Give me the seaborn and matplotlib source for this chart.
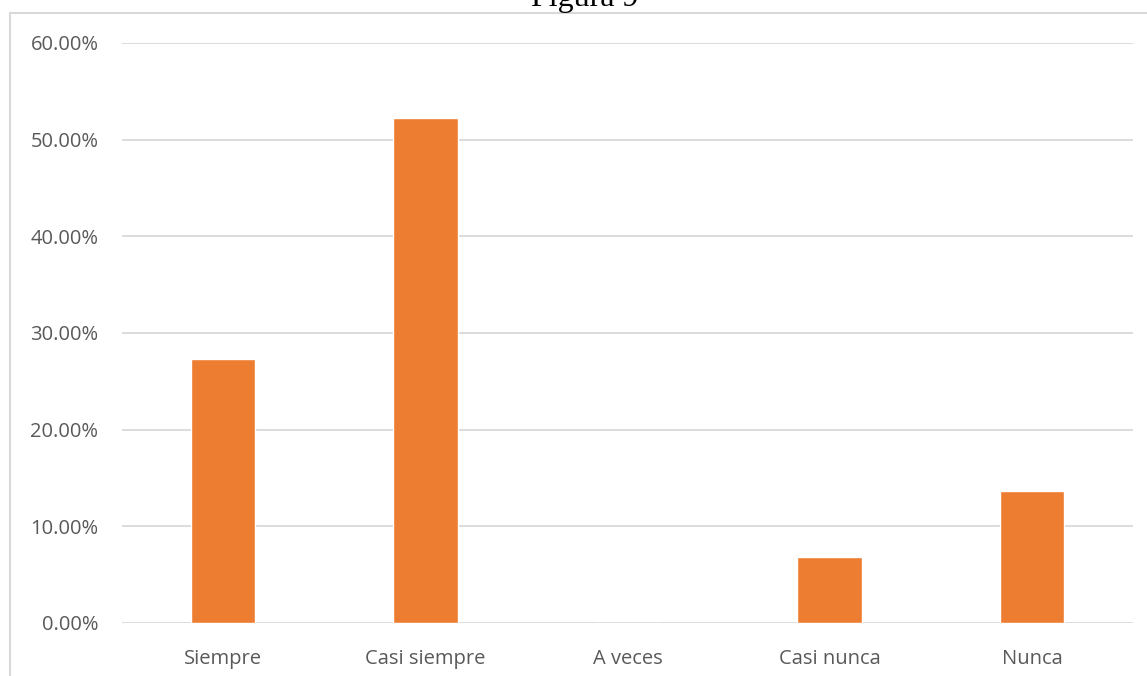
import matplotlib
matplotlib.use("Agg")
import matplotlib.pyplot as plt
import seaborn as sns
import pandas as pd
from matplotlib.patches import Rectangle
from matplotlib.ticker import FuncFormatter

# Datos
categorias = ["Siempre", "Casi siempre", "A veces", "Casi nunca", "Nunca"]
porcentajes = [0.2727, 0.5227, 0.0, 0.0682, 0.1364]
ticks_y = [0.0, 0.1, 0.2, 0.3, 0.4, 0.5, 0.6]
titulo = "Figura 9"

df = pd.DataFrame({"categoria": categorias, "valor": porcentajes})

sns.set_theme(style="white")
plt.rcParams["font.family"] = ["Open Sans", "DejaVu Sans"]

W, H = 1147, 676
fig = plt.figure(figsize=(W / 100, H / 100), dpi=100)
ax = fig.add_axes([122 / W, (H - 623) / H, (1133 - 122) / W, (623 - 43) / H])

sns.barplot(data=df, x="categoria", y="valor", color="#ED7D31",
            width=0.32, saturation=1, ax=ax, zorder=3)

ax.set_ylim(0, 0.6)
ax.set_xlim(-0.5, len(categorias) - 0.5)
ax.set_yticks(ticks_y)
ax.yaxis.set_major_formatter(FuncFormatter(lambda v, p: f"{v * 100:.2f}%"))
ax.grid(axis="y", color="#d9d9d9", linewidth=1.3, zorder=0)
ax.grid(axis="x", visible=False)
for s in ax.spines.values():
    s.set_visible(False)
ax.tick_params(axis="y", length=0, pad=17, labelsize=14.5, labelcolor="#595959")
ax.tick_params(axis="x", length=0, pad=19, labelsize=14.5, labelcolor="#595959")
ax.set_xlabel("")
ax.set_ylabel("")

# borde del área del gráfico
fig.patches.append(Rectangle((10 / W, -0.1), 1.2, (H - 13) / H + 0.1,
                             transform=fig.transFigure, fill=False,
                             edgecolor="#d9d9d9", linewidth=1.5))

# título (cortado arriba, como en el original)
fig.text(585 / W, (H - 6) / H, titulo, ha="center", va="baseline",
         fontsize=23, family=["Liberation Serif", "DejaVu Serif"], color="black")

fig.savefig("out.png", dpi=100)
